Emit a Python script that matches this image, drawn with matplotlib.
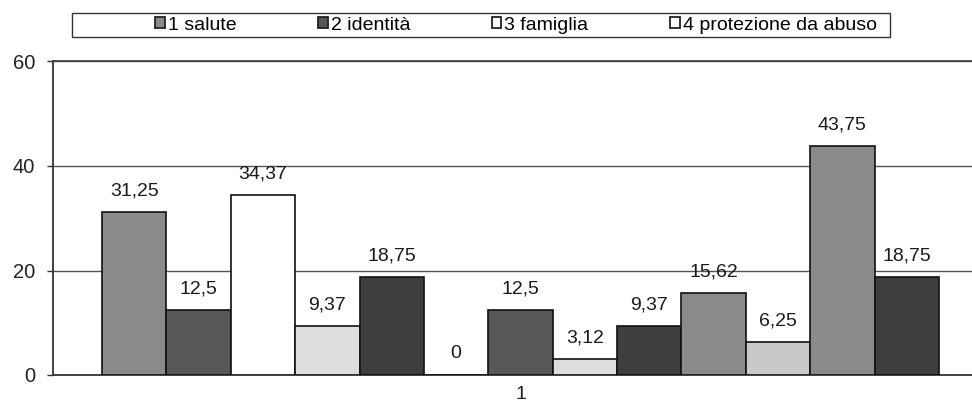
import matplotlib
matplotlib.use("Agg")
import matplotlib.pyplot as plt
from matplotlib.patches import Patch, Rectangle

plt.rcParams['font.family'] = ['Liberation Sans', 'DejaVu Sans']

# ---- data ----
category_labels = ["1"]
values = [31.25, 12.5, 34.37, 9.37, 18.75, 0, 12.5, 3.12, 9.37, 15.62, 6.25, 43.75, 18.75]
value_labels = ["31,25", "12,5", "34,37", "9,37", "18,75", "0", "12,5", "3,12",
                "9,37", "15,62", "6,25", "43,75", "18,75"]
legend_labels = ["1 salute", "2 identità", "3 famiglia", "4 protezione da abuso"]
y_ticks = [0, 20, 40, 60]

# ---- styles ----
MED = "#8a8a8a"
DARK = "#575757"
VDARK = "#3e3e3e"
LIGHT = "#dedede"
LIGHT2 = "#c9c9c9"
bar_colors = [MED, DARK, "white", LIGHT, VDARK, "white", DARK, LIGHT,
              VDARK, MED, LIGHT2, MED, VDARK]
legend_colors = [MED, DARK, "white", "white"]

fig = plt.figure(figsize=(9.72, 4.08), dpi=100)
W, H = 972, 408
ax = fig.add_axes([53 / W, (408 - 375) / H, 935 / W, (375 - 61.5) / H])

x = list(range(len(values)))
bars = ax.bar(x, values, width=1.0, color=bar_colors, edgecolor="#111111",
              linewidth=1.2, zorder=3)

for xi, v, lab in zip(x, values, value_labels):
    ax.annotate(lab, (xi, v), xytext=(0, 9), textcoords="offset points",
                ha="center", va="bottom", fontsize=14, color="#1a1a1a")

ax.set_xlim(-0.5 - 0.761, len(values) - 0.5 + 0.761)
ax.set_ylim(0, 60)
ax.set_yticks(y_ticks)
ax.set_yticklabels([str(t) for t in y_ticks], fontsize=14.5, color="#222222")
ax.set_xticks([(len(values) - 1) / 2])
ax.set_xticklabels(category_labels, fontsize=14, color="#222222")
ax.tick_params(axis="x", length=0, pad=8)
ax.tick_params(axis="y", length=4, width=1, color="#333333", pad=9)

ax.grid(axis="y", color="#555555", linewidth=1.0, zorder=0)
ax.spines["right"].set_visible(False)
ax.spines["top"].set_color("#444444")
ax.spines["top"].set_linewidth(1.3)
ax.spines["left"].set_color("#333333")
ax.spines["left"].set_linewidth(1.3)
ax.spines["bottom"].set_color("#333333")
ax.spines["bottom"].set_linewidth(1.3)

# legend frame
fig.patches.append(Rectangle((72 / W, (408 - 37) / H), 818 / W, 24 / H,
                             transform=fig.transFigure, facecolor="white",
                             edgecolor="#333333", linewidth=1.0))
handles = [Patch(facecolor=c, edgecolor="#222222", linewidth=1.3) for c in legend_colors]
fig.legend(handles, legend_labels, loc="center left",
           bbox_to_anchor=(155 / W, (408 - 25) / H), ncol=4, frameon=False,
           fontsize=14, handlelength=0.5, handleheight=0.55, handletextpad=0.15,
           columnspacing=4.2, borderpad=0, borderaxespad=0)

fig.savefig("out.png", dpi=100)
